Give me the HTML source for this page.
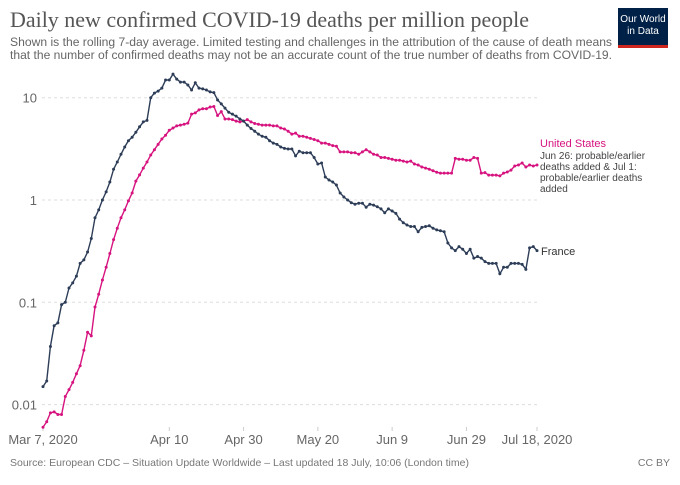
<!DOCTYPE html>
<html><head><meta charset="utf-8"><style>
body{margin:0;background:#fff;width:680px;height:480px;overflow:hidden;font-family:"Liberation Sans",sans-serif}
</style></head><body>
<svg width="680" height="480">
<text x="10" y="27" font-family="Liberation Serif,serif" font-size="22" fill="#555" textLength="519" lengthAdjust="spacingAndGlyphs">Daily new confirmed COVID-19 deaths per million people</text>
<text x="10" y="46" font-size="12.2" fill="#666" textLength="602" lengthAdjust="spacingAndGlyphs">Shown is the rolling 7-day average. Limited testing and challenges in the attribution of the cause of death means</text>
<text x="10" y="59" font-size="12.2" fill="#666" textLength="602" lengthAdjust="spacingAndGlyphs">that the number of confirmed deaths may not be an accurate count of the true number of deaths from COVID-19.</text>
<g>
<rect x="618" y="8" width="50" height="40" fill="#002147"/>
<rect x="618" y="45" width="50" height="3" fill="#ce261e"/>
<text x="643" y="22" font-size="10" fill="#fff" text-anchor="middle">Our World</text>
<text x="643" y="34" font-size="10" fill="#fff" text-anchor="middle">in Data</text>
</g>
<g id="grid"></g>
<g id="axes"></g>
<g id="series"></g>
<text x="540" y="147" font-size="11" fill="#d6137f">United States</text>
<g font-size="10" fill="#444">
<text x="540" y="159">Jun 26: probable/earlier</text>
<text x="540" y="170">deaths added &amp; Jul 1:</text>
<text x="540" y="181">probable/earlier deaths</text>
<text x="540" y="192">added</text>
</g>
<text x="541" y="255" font-size="11" fill="#333">France</text>
<text x="10" y="466" font-size="10.5" fill="#777">Source: European CDC – Situation Update Worldwide – Last updated 18 July, 10:06 (London time)</text>
<text x="670" y="466" font-size="10.5" fill="#777" text-anchor="end">CC BY</text>
</svg>
<script>
const yTicks=[10,1,0.1,0.01];
const yTickLabels=["10","1","0.1","0.01"];
const xTickDays=[0,34,54,74,94,114,133];
const xTickLabels=["Mar 7, 2020","Apr 10","Apr 30","May 20","Jun 9","Jun 29","Jul 18, 2020"];
const france=[0.015,0.017,0.037,0.059,0.063,0.095,0.1,0.138,0.155,0.18,0.24,0.26,0.31,0.42,0.67,0.8,1.0,1.2,1.5,2.0,2.35,2.8,3.3,3.8,4.1,4.6,5.2,5.8,6.0,10,11.1,11.6,12.4,14.9,14.9,17.0,15.2,14.2,14.2,13.3,11.9,14,12.4,12.2,11.9,11.4,11.2,9.5,8.7,7.9,7.2,6.9,6.6,6.2,5.9,5.4,5.0,4.7,4.4,4.2,4.1,3.8,3.6,3.5,3.3,3.2,3.15,3.15,2.7,3.0,2.9,2.9,2.9,2.6,2.25,2.3,1.68,1.57,1.5,1.4,1.17,1.07,1.0,0.94,0.91,0.93,0.93,0.85,0.91,0.89,0.86,0.82,0.75,0.82,0.78,0.74,0.65,0.6,0.57,0.55,0.55,0.49,0.54,0.55,0.56,0.53,0.51,0.5,0.49,0.38,0.34,0.32,0.35,0.33,0.3,0.33,0.27,0.28,0.27,0.25,0.24,0.24,0.24,0.19,0.22,0.22,0.24,0.24,0.24,0.235,0.21,0.34,0.35,0.32];
const us=[0.006,0.0068,0.0083,0.0085,0.008,0.008,0.012,0.014,0.0165,0.02,0.024,0.034,0.051,0.047,0.09,0.12,0.165,0.22,0.3,0.41,0.53,0.67,0.8,0.98,1.17,1.53,1.76,2.05,2.35,2.75,3.1,3.5,3.95,4.3,4.8,5.05,5.3,5.4,5.5,5.65,6.9,7.1,7.6,7.8,7.8,8.1,8.2,6.7,7.3,6.2,6.2,6.1,5.9,5.8,5.9,6.1,5.8,5.6,5.5,5.4,5.4,5.4,5.3,5.3,5.05,4.95,4.7,4.4,4.5,4.2,4.2,4.1,4.0,3.9,3.8,3.6,3.6,3.5,3.4,3.35,2.95,2.95,2.95,2.9,2.9,2.8,2.95,3.1,2.95,2.8,2.75,2.6,2.6,2.55,2.5,2.45,2.45,2.4,2.35,2.4,2.25,2.2,2.1,2.05,2.0,1.93,1.87,1.83,1.83,1.83,1.83,2.55,2.5,2.5,2.45,2.45,2.6,2.55,1.83,1.85,1.75,1.75,1.75,1.72,1.83,1.88,1.96,2.15,2.2,2.3,2.1,2.2,2.15,2.2];
const NS='http://www.w3.org/2000/svg';
const X=d=>43+d*(537-43)/133;
const Y=v=>200-102.3*Math.log10(v);
function mk(tag,attrs,parent){const e=document.createElementNS(NS,tag);for(const k in attrs)e.setAttribute(k,attrs[k]);parent.appendChild(e);return e;}
const grid=document.getElementById('grid'),axes=document.getElementById('axes'),ser=document.getElementById('series');
yTicks.forEach((t,i)=>{
  const l=mk('line',{x1:42,x2:537,y1:Y(t),y2:Y(t),stroke:'#ddd','stroke-dasharray':'3,3'},grid);
  
  
  const tx=mk('text',{x:37,y:Y(t)+5,'font-size':13,fill:'#666','text-anchor':'end'},axes);
  tx.textContent=yTickLabels[i];
  
  
});
xTickDays.forEach((d,i)=>{
  const tk=mk('line',{x1:X(d),x2:X(d),y1:427,y2:431,stroke:'#ccc'},axes);
  
  
  const tx=mk('text',{x:X(d),y:444,'font-size':13,fill:'#666','text-anchor':'middle'},axes);
  tx.textContent=xTickLabels[i];
  
  
});
function draw(arr,color,name){
  const g=mk('g',{},ser);
  
  
  const p=mk('path',{d:arr.map((v,i)=>(i?'L':'M')+X(i).toFixed(1)+','+Y(v).toFixed(1)).join(''),fill:'none',stroke:color,'stroke-width':1.4},g);
  
  
  arr.forEach((v,i)=>{
    const c=mk('circle',{cx:X(i),cy:Y(v),r:1.5,fill:color},g);
    
    
  });
}
draw(us,'#d6137f','united-states');
draw(france,'#2d3d57','france');
</script>
</body></html>
